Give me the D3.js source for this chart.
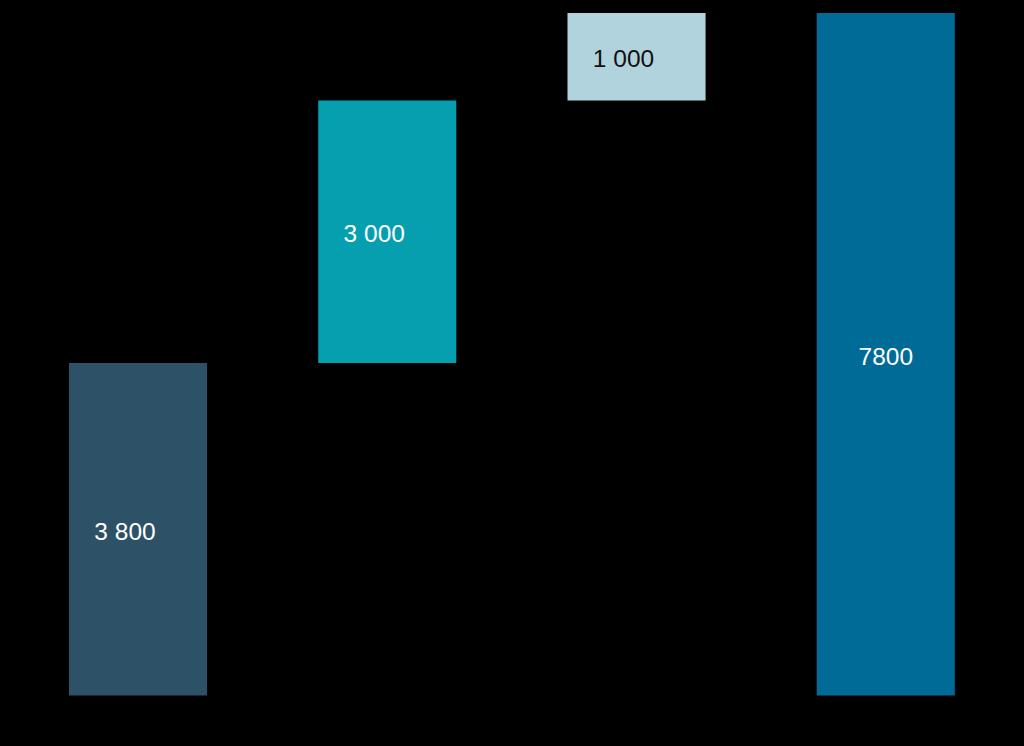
<!DOCTYPE html>
<html>
<head>
<meta charset="utf-8">
<script src="https://cdn.jsdelivr.net/npm/d3@7"></script>
<style>
  html, body { margin: 0; padding: 0; background: #000; }
  svg { display: block; }
</style>
</head>
<body>
<script>
// waterfall data
const categories = ["A", "B", "C", "Total"];
const values = [3800, 3000, 1000, 7800];
const isTotal = [false, false, false, true];
const labels = ["3 800", "3 000", "1 000", "7800"];
const colors = ["#2d5166", "#069faf", "#b1d3de", "#006b97"];
const labelColors = ["#ffffff", "#ffffff", "#111111", "#ffffff"];

const width = 1024, height = 746;

const svg = d3.select("body").append("svg")
    .attr("width", width)
    .attr("height", height);

svg.append("rect")
    .attr("width", width)
    .attr("height", height)
    .attr("fill", "#000");

// running start/end for each step
let running = 0;
const steps = values.map((v, i) => {
    const start = isTotal[i] ? 0 : running;
    const end = isTotal[i] ? v : running + v;
    if (!isTotal[i]) running = end;
    return {cat: categories[i], start, end, label: labels[i], color: colors[i], labelColor: labelColors[i]};
});

const x = d3.scaleBand()
    .domain(categories)
    .range([13.4, 1010.4])
    .paddingInner(0.446)
    .paddingOuter(0.223);

const y = d3.scaleLinear()
    .domain([0, d3.max(steps, d => d.end)])
    .range([695.5, 13]);

const g = svg.selectAll("g.step")
    .data(steps)
    .join("g")
    .attr("class", "step");

g.append("rect")
    .attr("x", d => x(d.cat))
    .attr("y", d => y(d.end))
    .attr("width", x.bandwidth())
    .attr("height", d => y(d.start) - y(d.end))
    .attr("fill", d => d.color);

g.append("text")
    .attr("x", d => x(d.cat) + x.bandwidth() / 2)
    .attr("dx", d => d.label.includes(" ") ? -13 : 0)
    .attr("y", d => (y(d.start) + y(d.end)) / 2 + 2)
    .attr("text-anchor", "middle")
    .attr("dominant-baseline", "central")
    .attr("font-family", "'Liberation Sans', Arial, sans-serif")
    .attr("font-size", 24.5)
    .attr("fill", d => d.labelColor)
    .text(d => d.label);
</script>
</body>
</html>
